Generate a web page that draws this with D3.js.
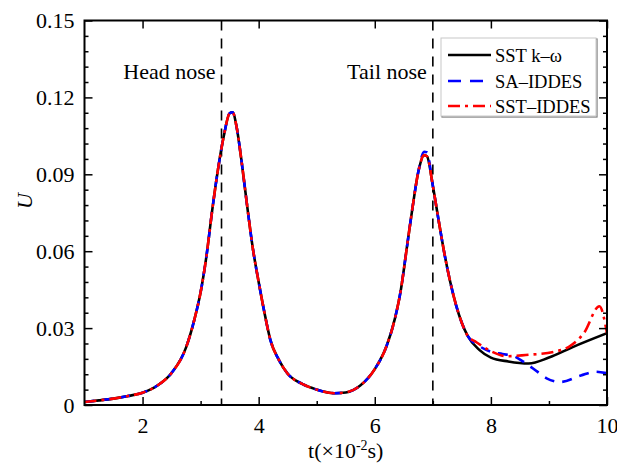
<!DOCTYPE html>
<html><head><meta charset="utf-8">
<script src="https://cdn.jsdelivr.net/npm/d3@7"></script>
<style>
html,body{margin:0;padding:0;background:#fff;}
svg{display:block;font-family:"Liberation Serif","Times New Roman",serif;}
</style></head>
<body>
<svg id="c" width="617" height="468"></svg>
<script>
// ---- data ----
const tCommon = [1.0,1.25,1.5,1.75,2.0,2.25,2.5,2.75,2.9,3.0,3.1,3.2,3.3,3.4,3.5,3.55,3.62,3.7,3.8,3.9,4.0,4.1,4.2,4.35,4.5,4.75,5.0,5.3,5.5,5.75,6.0,6.2,6.35,6.45,6.55,6.65,6.75,6.85,6.9,7.0,7.1,7.2,7.3,7.4,7.5,7.6];
const uCommon = [0.0012,0.0018,0.0025,0.0035,0.0048,0.0075,0.0125,0.0225,0.034,0.044,0.058,0.076,0.092,0.105,0.1138,0.1142,0.1085,0.096,0.078,0.061,0.048,0.036,0.0255,0.0175,0.0122,0.0082,0.006,0.0046,0.0049,0.0076,0.014,0.0228,0.034,0.045,0.061,0.077,0.091,0.0975,0.097,0.0855,0.072,0.059,0.048,0.039,0.032,0.027];

const tSST = [7.8,8.0,8.3,8.65,9.0,9.4,10.0];
const uSST = [0.0215,0.0185,0.017,0.0162,0.0185,0.0225,0.028];

const tSA = [7.8,8.0,8.2,8.4,8.56,8.8,8.96,9.2,9.55,9.8,10.0];
const uSA = [0.023,0.0208,0.0199,0.019,0.0169,0.013,0.0104,0.009,0.0115,0.013,0.0124];

const tSSTI = [7.75,8.0,8.27,8.6,9.1,9.35,9.6,9.87,10.0];
const uSSTI = [0.0245,0.021,0.019,0.0195,0.0208,0.0228,0.028,0.0385,0.028];

const seriesNames = ["SST k\u2013\u03c9","SA\u2013IDDES","SST\u2013IDDES"];
const xMajor = [2,4,6,8,10];
const xMinor = [3,5,7,9];
const yMajor = [0,0.03,0.06,0.09,0.12,0.15];
const markerT = [3.36,7.0];
const markerLabels = ["Head nose","Tail nose"];

// ---- build series ----
function zip(ts,us){return ts.map((t,i)=>({t:t,u:us[i]}));}
const common = zip(tCommon,uCommon);
const blueCommon = common.map(d=>({t:d.t,u:(d.t===6.85?0.0988:(d.t===6.9?0.0985:d.u))}));
const series = [
  {name:seriesNames[0], color:"#000000", dash:null, data: common.concat(zip(tSST,uSST))},
  {name:seriesNames[1], color:"#0000ff", dash:"10,8", data: blueCommon.concat(zip(tSA,uSA))},
  {name:seriesNames[2], color:"#ff0000", dash:"12,5,3,5", data: common.concat(zip(tSSTI,uSSTI))}
];

const svg = d3.select("#c");
const L=84.5, R=607, T=20.5, B=405;
const x = d3.scaleLinear().domain([1,10]).range([L,R]);
const y = d3.scaleLinear().domain([0,0.15]).range([B,T]);

const yMinor = d3.range(0,0.1501,0.006).filter(v=>!yMajor.some(m=>Math.abs(m-v)<1e-6));

// clip
svg.append("defs").append("clipPath").attr("id","clip")
  .append("rect").attr("x",L).attr("y",T).attr("width",R-L).attr("height",B-T);

// marker dashed lines
markerT.forEach(t=>{
  svg.append("line").attr("x1",x(t)).attr("x2",x(t)).attr("y1",T).attr("y2",B)
    .attr("stroke","#000").attr("stroke-width",1.6).attr("stroke-dasharray","10,8");
});

// curves
const line = d3.line().x(d=>x(d.t)).y(d=>y(d.u)).curve(d3.curveMonotoneX);
const g = svg.append("g").attr("clip-path","url(#clip)");
series.forEach(s=>{
  g.append("path").attr("d",line(s.data)).attr("fill","none")
    .attr("stroke",s.color).attr("stroke-width",2.6)
    .attr("stroke-dasharray",s.dash).attr("stroke-linejoin","round");
});

// axes
function styleAxis(sel){
  sel.select(".domain").remove();
  sel.selectAll("line").attr("stroke","#000").attr("stroke-width",1.5);
  sel.selectAll("text").attr("font-family","Liberation Serif, serif").attr("font-size",22).attr("fill","#000");
}
svg.append("g").attr("transform",`translate(0,${B})`)
  .call(d3.axisBottom(x).tickValues(xMajor).tickSize(-8).tickPadding(12).tickFormat(d3.format("d"))).call(styleAxis);
svg.append("g").attr("transform",`translate(0,${B})`)
  .call(d3.axisBottom(x).tickValues(xMinor).tickSize(-4).tickFormat("")).call(styleAxis);
svg.append("g").attr("transform",`translate(0,${T})`)
  .call(d3.axisTop(x).tickValues(xMajor).tickSize(-8).tickFormat("")).call(styleAxis);
svg.append("g").attr("transform",`translate(${L},0)`)
  .call(d3.axisLeft(y).tickValues(yMajor).tickSize(-8).tickPadding(10).tickFormat(d=>d===0?"0":d3.format(".2f")(d))).call(styleAxis);
svg.append("g").attr("transform",`translate(${L},0)`)
  .call(d3.axisLeft(y).tickValues(yMinor).tickSize(-4).tickFormat("")).call(styleAxis);
svg.append("g").attr("transform",`translate(${R},0)`)
  .call(d3.axisRight(y).tickValues(yMajor).tickSize(-8).tickFormat("")).call(styleAxis);
svg.append("g").attr("transform",`translate(${R},0)`)
  .call(d3.axisRight(y).tickValues(yMinor).tickSize(-4).tickFormat("")).call(styleAxis);

// frame
svg.append("rect").attr("x",L).attr("y",T).attr("width",R-L).attr("height",B-T)
  .attr("fill","none").attr("stroke","#000").attr("stroke-width",2);

// annotations
markerLabels.forEach((lab,i)=>{
  svg.append("text").attr("x",x(markerT[i])-6).attr("y",79).attr("text-anchor","end")
    .attr("font-size",22).text(lab);
});

// axis titles
const xt = svg.append("text").attr("x",(L+R)/2).attr("y",458).attr("text-anchor","middle").attr("font-size",22);
xt.append("tspan").text("t(\u00d710");
xt.append("tspan").attr("dy",-8).attr("font-size",14).text("-2");
xt.append("tspan").attr("dy",8).text("s)");
svg.append("text").attr("transform","translate(32,201) rotate(-90)").attr("text-anchor","middle")
  .attr("font-size",22).attr("font-style","italic").text("U");

// legend
const lg = svg.append("g");
lg.append("rect").attr("x",442).attr("y",39).attr("width",155).attr("height",78)
  .attr("fill","none").attr("stroke","#777").attr("stroke-width",1.2);
lg.append("rect").attr("x",441).attr("y",38).attr("width",155).attr("height",78)
  .attr("fill","#fff").attr("stroke","#c8c8c8").attr("stroke-width",1);
const ly = [55,81,106];
series.forEach((s,i)=>{
  lg.append("line").attr("x1",448).attr("x2",491).attr("y1",ly[i]).attr("y2",ly[i])
    .attr("stroke",s.color).attr("stroke-width",2.6).attr("stroke-dasharray",s.dash==="10,8"?"13,9":(s.dash?"12,5,3,5":null));
  lg.append("text").attr("x",495).attr("y",ly[i]+6.5).attr("font-size",18.5).text(s.name);
});
</script>
</body></html>
